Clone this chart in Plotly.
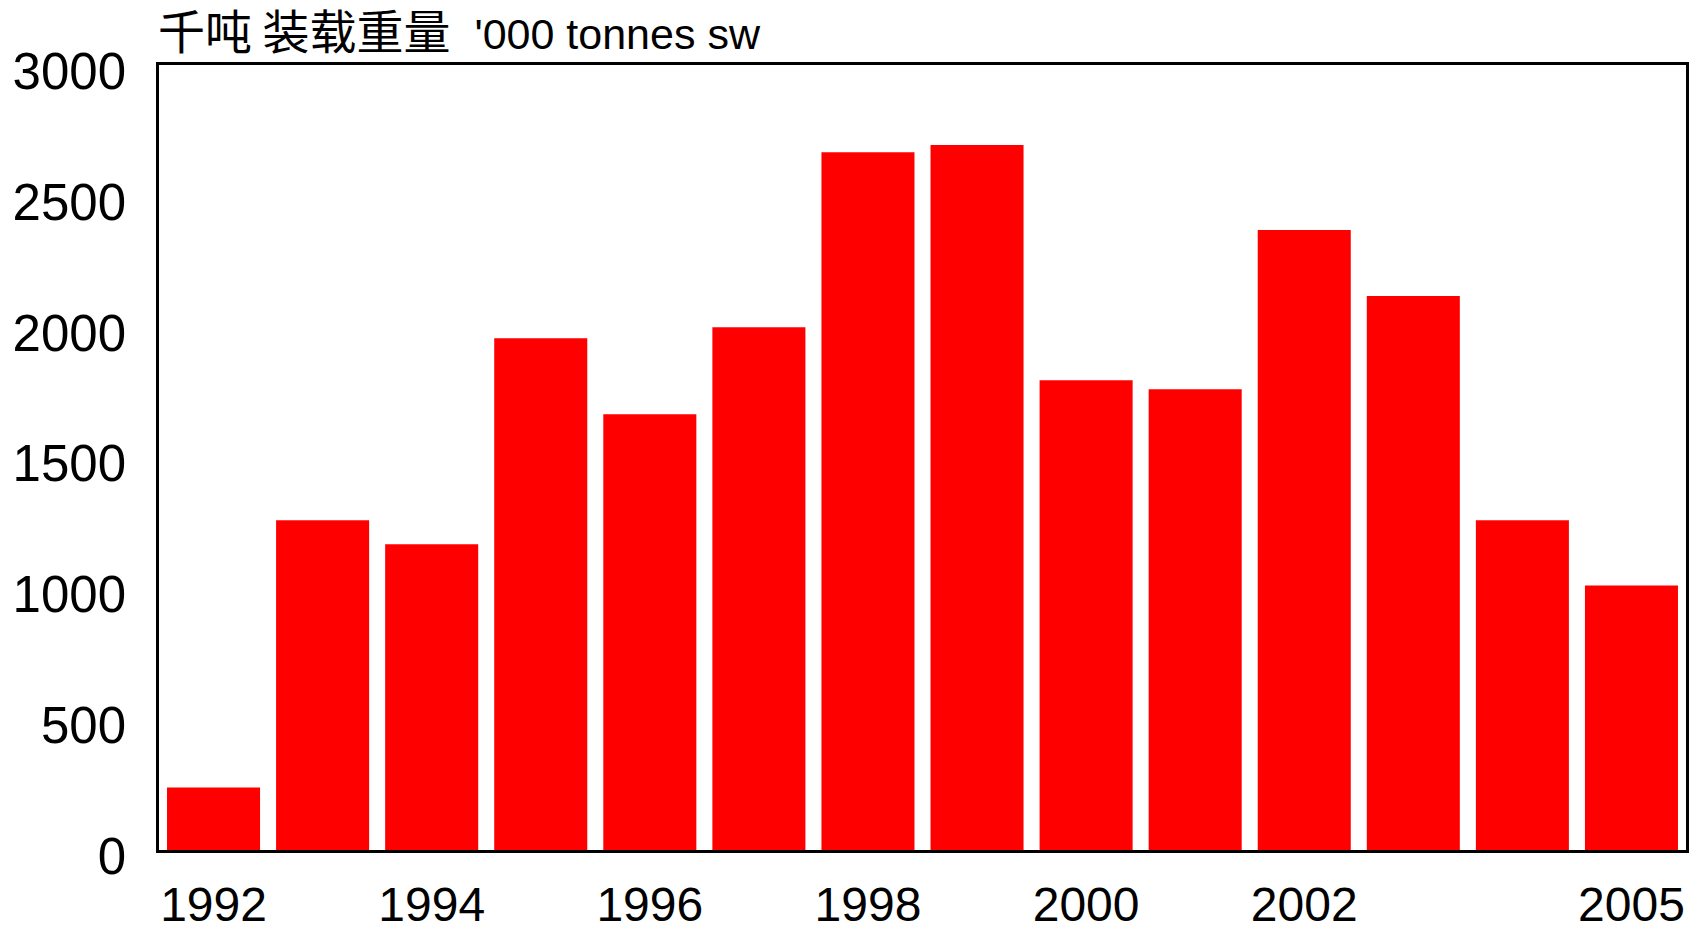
import plotly.graph_objects as go

years = ["1992", "1993", "1994", "1995", "1996", "1997", "1998",
         "1999", "2000", "2001", "2002", "2003", "2004", "2005"]
loaded_weight = [239, 1260, 1168, 1956, 1665, 1998, 2667,
                 2694, 1795, 1761, 2369, 2117, 1260, 1011]
x_tick_vals = ["1992", "1994", "1996", "1998", "2000", "2002", "2005"]
y_tick_vals = [0, 500, 1000, 1500, 2000, 2500, 3000]
title_cn = "千吨 装载重量"
title_en = "'000 tonnes sw"

FONT = "Liberation Sans, Arial, Noto Sans CJK SC, sans-serif"
CJK_FONT = "Noto Sans CJK SC, sans-serif"

fig = go.Figure(go.Bar(
    x=years, y=loaded_weight,
    marker=dict(color="#ff0000", line=dict(width=0)),
))

title_html = (
    f'<span style="font-family:{CJK_FONT};font-size:47px">{title_cn}</span>'
    f'<span style="font-size:43px">&nbsp; {title_en}</span>'
)

fig.update_layout(
    width=1701, height=930,
    margin=dict(l=159, r=15, t=65, b=80, autoexpand=False),
    paper_bgcolor="white", plot_bgcolor="white",
    bargap=0.147,
    showlegend=False,
    font=dict(family=FONT, color="black", size=48),
    annotations=[dict(
        text=title_html, xref="paper", yref="paper",
        x=-0.002, y=1.046, xanchor="left", yanchor="middle",
        showarrow=False, font=dict(size=43, family=FONT, color="black"),
    )],
)

fig.update_xaxes(
    type="category", automargin=False,
    tickmode="array", tickvals=x_tick_vals, ticktext=x_tick_vals,
    showline=True, mirror=True, linecolor="black", linewidth=2.5,
    showgrid=False, ticks="", ticklabelstandoff=11,
    tickfont=dict(size=48, family=FONT),
)
fig.update_yaxes(
    range=[0, 3000], automargin=False,
    tickmode="array", tickvals=y_tick_vals,
    showline=True, mirror=True, linecolor="black", linewidth=2.5,
    showgrid=False, zeroline=False, ticks="", ticklabelstandoff=20,
    ticklabelshift=6,
    tickfont=dict(size=51, family=FONT),
)

fig.write_html("out.html", config={"displayModeBar": False},
               post_script="document.body.style.margin='0';")
